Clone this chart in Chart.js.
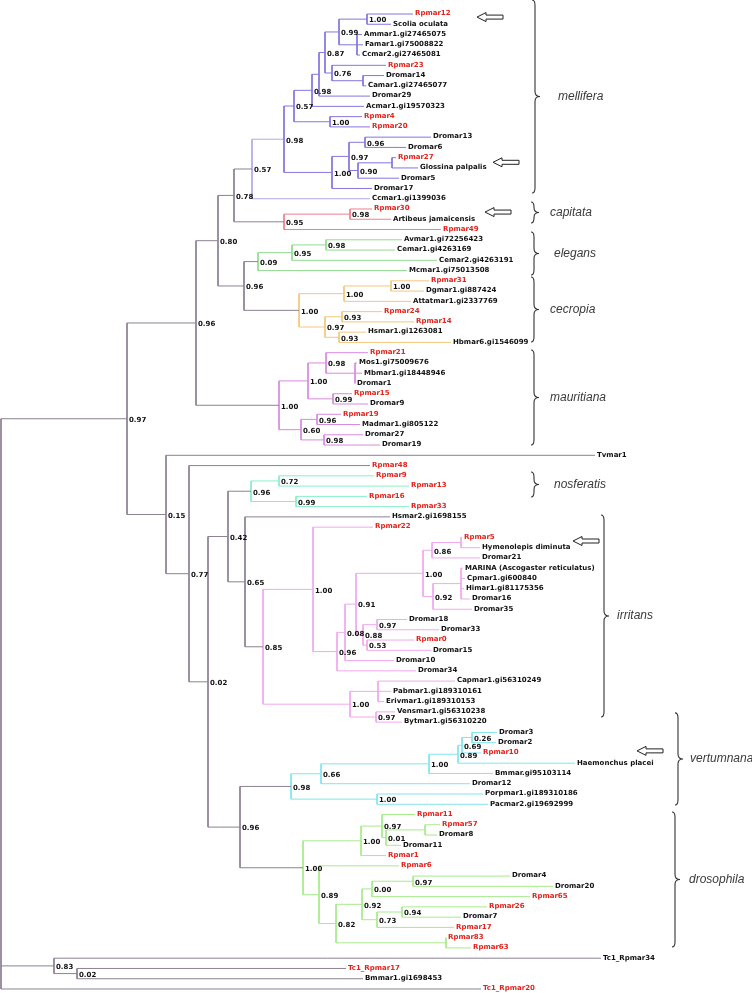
<!DOCTYPE html>
<html>
<head>
<meta charset="utf-8">
<script src="https://cdn.jsdelivr.net/npm/chart.js@4.4.1/dist/chart.umd.min.js"></script>
<style>
  html, body { margin: 0; padding: 0; background: #fff; }
  canvas { display: block; }
</style>
</head>
<body>
<canvas id="tree" width="752" height="993"></canvas>
<script>
// Leaves, top to bottom (y = leaf index)
const leafNames = [
  'Rpmar12', 'Scolia oculata', 'Ammar1.gi27465075', 'Famar1.gi75008822', 'Ccmar2.gi27465081',
  'Rpmar23', 'Dromar14', 'Camar1.gi27465077', 'Dromar29', 'Acmar1.gi19570323',
  'Rpmar4', 'Rpmar20', 'Dromar13', 'Dromar6', 'Rpmar27', 'Glossina palpalis', 'Dromar5', 'Dromar17',
  'Ccmar1.gi1399036', 'Rpmar30', 'Artibeus jamaicensis', 'Rpmar49',
  'Avmar1.gi72256423', 'Cemar1.gi4263169', 'Cemar2.gi4263191', 'Mcmar1.gi75013508',
  'Rpmar31', 'Dgmar1.gi887424', 'Attatmar1.gi2337769', 'Rpmar24', 'Rpmar14', 'Hsmar1.gi1263081', 'Hbmar6.gi1546099',
  'Rpmar21', 'Mos1.gi75009676', 'Mbmar1.gi18448946', 'Dromar1', 'Rpmar15', 'Dromar9',
  'Rpmar19', 'Madmar1.gi805122', 'Dromar27', 'Dromar19',
  'Tvmar1', 'Rpmar48', 'Rpmar9', 'Rpmar13', 'Rpmar16', 'Rpmar33', 'Hsmar2.gi1698155', 'Rpmar22',
  'Rpmar5', 'Hymenolepis diminuta', 'Dromar21', 'MARINA (Ascogaster reticulatus)', 'Cpmar1.gi600840',
  'Himar1.gi81175356', 'Dromar16', 'Dromar35', 'Dromar18', 'Dromar33', 'Rpmar0', 'Dromar15', 'Dromar10', 'Dromar34',
  'Capmar1.gi56310249', 'Pabmar1.gi189310161', 'Erivmar1.gi189310153', 'Vensmar1.gi56310238', 'Bytmar1.gi56310220',
  'Dromar3', 'Dromar2', 'Rpmar10', 'Haemonchus placei', 'Bmmar.gi95103114', 'Dromar12',
  'Porpmar1.gi189310186', 'Pacmar2.gi19692999',
  'Rpmar11', 'Rpmar57', 'Dromar8', 'Dromar11', 'Rpmar1', 'Rpmar6', 'Dromar4', 'Dromar20', 'Rpmar65',
  'Rpmar26', 'Dromar7', 'Rpmar17', 'Rpmar83', 'Rpmar63',
  'Tc1_Rpmar34', 'Tc1_Rpmar17', 'Bmmar1.gi1698453', 'Tc1_Rpmar20'
];

// Tip depth of each leaf (same units as node depth)
const leafTipX = [
  413, 391, 362, 363, 360, 386, 384, 366, 370, 364,
  362, 370, 431, 406, 396, 418, 399, 372, 370, 372,
  391, 441, 402, 395, 437, 407, 429, 424, 411, 382,
  414, 366, 451, 368, 357, 362, 355, 352, 368, 341,
  360, 363, 380, 595, 370, 374, 409, 367, 409, 390,
  373, 462, 480, 480, 463, 465, 464, 470, 472, 407,
  439, 414, 431, 394, 416, 455, 391, 384, 395, 402,
  497, 496, 481, 575, 493, 470, 483, 488, 415, 440,
  437, 401, 386, 399, 510, 553, 530, 487, 461, 454,
  446, 471, 601, 346, 363, 481
];

// Labels printed in red (the Rpmar sequences)
const redLeaves = [
  'Rpmar12', 'Rpmar23', 'Rpmar4', 'Rpmar20', 'Rpmar27', 'Rpmar30', 'Rpmar49', 'Rpmar31', 'Rpmar24',
  'Rpmar14', 'Rpmar21', 'Rpmar15', 'Rpmar19', 'Rpmar48', 'Rpmar9', 'Rpmar13', 'Rpmar16', 'Rpmar33',
  'Rpmar22', 'Rpmar5', 'Rpmar0', 'Rpmar10', 'Rpmar11', 'Rpmar57', 'Rpmar1', 'Rpmar6', 'Rpmar65',
  'Rpmar26', 'Rpmar17', 'Rpmar83', 'Rpmar63', 'Tc1_Rpmar17', 'Tc1_Rpmar20'
];

// Internal nodes per clade: [id, depth, support, children top-to-bottom]
const melliferaNodes = [
  ['rs', 367, '1.00', ['Rpmar12', 'Scolia oculata']],
  ['afc', 357, '', ['Ammar1.gi27465075', 'Famar1.gi75008822', 'Ccmar2.gi27465081']],
  ['m099', 339, '0.99', ['rs', 'afc']],
  ['dc', 363, '', ['Dromar14', 'Camar1.gi27465077']],
  ['m076', 332, '0.76', ['Rpmar23', 'dc']],
  ['m087', 325, '0.87', ['m099', 'm076']],
  ['mx', 319, '', ['m087', 'Dromar29']],
  ['m098n', 312, '0.98', ['mx', 'Acmar1.gi19570323']],
  ['m100r', 330, '1.00', ['Rpmar4', 'Rpmar20']],
  ['m057b', 294, '0.57', ['m098n', 'm100r']],
  ['m096', 365, '0.96', ['Dromar13', 'Dromar6']],
  ['rg', 392, '', ['Rpmar27', 'Glossina palpalis']],
  ['m090', 358, '0.90', ['rg', 'Dromar5']],
  ['m097', 349, '0.97', ['m096', 'm090']],
  ['m100g', 332, '1.00', ['m097', 'Dromar17']],
  ['m098', 284, '0.98', ['m057b', 'm100g']]
];
const melliferaOuterNodes = [
  ['m057a', 252, '0.57', ['m098', 'Ccmar1.gi1399036']]
];
const capitataNodes = [
  ['c098', 350, '0.98', ['Rpmar30', 'Artibeus jamaicensis']],
  ['c095', 284, '0.95', ['c098', 'Rpmar49']]
];
const elegansNodes = [
  ['e098', 326, '0.98', ['Avmar1.gi72256423', 'Cemar1.gi4263169']],
  ['e095', 292, '0.95', ['e098', 'Cemar2.gi4263191']],
  ['e009', 258, '0.09', ['e095', 'Mcmar1.gi75013508']]
];
const cecropiaNodes = [
  ['k100q', 391, '1.00', ['Rpmar31', 'Dgmar1.gi887424']],
  ['k100f', 344, '1.00', ['k100q', 'Attatmar1.gi2337769']],
  ['k093a', 342, '0.93', ['Rpmar24', 'Rpmar14']],
  ['k093b', 339, '0.93', ['Hsmar1.gi1263081', 'Hbmar6.gi1546099']],
  ['k097', 325, '0.97', ['k093a', 'k093b']],
  ['k100', 299, '1.00', ['k100f', 'k097']]
];
const mauritianaNodes = [
  ['md', 355, '', ['Mos1.gi75009676', 'Mbmar1.gi18448946', 'Dromar1']],
  ['u098r', 326, '0.98', ['Rpmar21', 'md']],
  ['u099', 333, '0.99', ['Rpmar15', 'Dromar9']],
  ['u100n', 308, '1.00', ['u098r', 'u099']],
  ['u096', 317, '0.96', ['Rpmar19', 'Madmar1.gi805122']],
  ['u098', 324, '0.98', ['Dromar27', 'Dromar19']],
  ['u060', 301, '0.60', ['u096', 'u098']],
  ['u100', 279, '1.00', ['u100n', 'u060']]
];
const nosferatisNodes = [
  ['n072', 279, '0.72', ['Rpmar9', 'Rpmar13']],
  ['n099', 296, '0.99', ['Rpmar16', 'Rpmar33']],
  ['n096', 251, '0.96', ['n072', 'n099']]
];
const irritansNodes = [
  ['rh', 461, '', ['Rpmar5', 'Hymenolepis diminuta']],
  ['i086', 432, '0.86', ['rh', 'Dromar21']],
  ['mc', 461, '', ['MARINA (Ascogaster reticulatus)', 'Cpmar1.gi600840', 'Himar1.gi81175356', 'Dromar16']],
  ['i092', 433, '0.92', ['mc', 'Dromar35']],
  ['i100c', 423, '1.00', ['i086', 'i092']],
  ['i097', 377, '0.97', ['Dromar18', 'Dromar33']],
  ['i053', 367, '0.53', ['Rpmar0', 'Dromar15']],
  ['i088', 363, '0.88', ['i097', 'i053']],
  ['i091', 356, '0.91', ['i100c', 'i088']],
  ['i008', 345, '0.08', ['i091', 'Dromar10']],
  ['i096', 337, '0.96', ['i008', 'Dromar34']],
  ['i100a', 313, '1.00', ['Rpmar22', 'i096']],
  ['cpe', 378, '', ['Capmar1.gi56310249', 'Pabmar1.gi189310161', 'Erivmar1.gi189310153']],
  ['i097e', 376, '0.97', ['Vensmar1.gi56310238', 'Bytmar1.gi56310220']],
  ['i100b', 350, '1.00', ['cpe', 'i097e']],
  ['i085', 263, '0.85', ['i100a', 'i100b']]
];
const vertumnanaNodes = [
  ['v026', 472, '0.26', ['Dromar3', 'Dromar2']],
  ['v069', 462, '0.69', ['v026', 'Rpmar10']],
  ['v089', 458, '0.89', ['v069', 'Haemonchus placei']],
  ['v100w', 429, '1.00', ['v089', 'Bmmar.gi95103114']],
  ['v066', 321, '0.66', ['v100w', 'Dromar12']],
  ['v100', 377, '1.00', ['Porpmar1.gi189310186', 'Pacmar2.gi19692999']],
  ['v098', 291, '0.98', ['v066', 'v100']]
];
const drosophilaNodes = [
  ['rd', 425, '', ['Rpmar57', 'Dromar8']],
  ['d001', 386, '0.01', ['rd', 'Dromar11']],
  ['d097', 382, '0.97', ['Rpmar11', 'd001']],
  ['d100', 361, '1.00', ['d097', 'Rpmar1']],
  ['d097i', 413, '0.97', ['Dromar4', 'Dromar20']],
  ['d000', 372, '0.00', ['d097i', 'Rpmar65']],
  ['d094', 402, '0.94', ['Rpmar26', 'Dromar7']],
  ['d073', 377, '0.73', ['d094', 'Rpmar17']],
  ['d092', 362, '0.92', ['d000', 'd073']],
  ['rr', 446, '', ['Rpmar83', 'Rpmar63']],
  ['d082', 336, '0.82', ['d092', 'rr']],
  ['d089', 319, '0.89', ['Rpmar6', 'd082']],
  ['dro', 303, '1.00', ['d100', 'd089']]
];
const backboneNodes = [
  ['b078', 234, '0.78', ['m057a', 'c095']],
  ['b096e', 244, '0.96', ['e009', 'k100']],
  ['b080', 218, '0.80', ['b078', 'b096e']],
  ['b096a', 196, '0.96', ['b080', 'u100']],
  ['b065', 245, '0.65', ['Hsmar2.gi1698155', 'i085']],
  ['b042', 228, '0.42', ['n096', 'b065']],
  ['b096b', 240, '0.96', ['v098', 'dro']],
  ['b002', 208, '0.02', ['b042', 'b096b']],
  ['b077', 189, '0.77', ['Rpmar48', 'b002']],
  ['b015', 166, '0.15', ['Tvmar1', 'b077']],
  ['b097', 127, '0.97', ['b096a', 'b015']],
  ['t002', 77, '0.02', ['Tc1_Rpmar17', 'Bmmar1.gi1698453']],
  ['t083', 54, '0.83', ['Tc1_Rpmar34', 't002']],
  ['root', 1, '', ['b097', 't083', 'Tc1_Rpmar20']]
];

// Clade brackets: name and leaf-index span
const cladeNames = ['mellifera', 'capitata', 'elegans', 'cecropia', 'mauritiana', 'nosferatis', 'irritans', 'vertumnana', 'drosophila'];
const cladeSpans = [[-1.36, 17.44], [18.32, 20.36], [21.24, 25.43], [25.63, 31.96], [32.74, 41.99],
                    [44.63, 47.06], [48.82, 68.5], [68.1, 77.07], [77.76, 90.9]];

// Hollow arrows pointing at leaves (leaf-index position)
const arrowRows = [0.3, 14.45, 19.3, 51.35, 71.8];

// ---- styling / layout (not data) ----
const groupStyles = [
  [backboneNodes, '#8d8194'],
  [melliferaNodes, '#8577e0'],
  [melliferaOuterNodes, '#b4aae6'],
  [capitataNodes, '#f07f8d'],
  [elegansNodes, '#92dc92'],
  [cecropiaNodes, '#f6c77c'],
  [mauritianaNodes, '#d98ae2'],
  [nosferatisNodes, '#86efc8'],
  [irritansNodes, '#f1a8ef'],
  [vertumnanaNodes, '#82e5ee'],
  [drosophilaNodes, '#a8ea8c']
];
const braceX = [535, 534, 534, 534, 534, 534, 604, 678, 675];
const cladeLabelX = [558, 550, 554, 550, 550, 554, 617, 690, 689];
const arrowX = [477, 493, 485, 573, 637];

// ---- layout: depth from data, y from leaf order ----
const nodes = {};
leafNames.forEach((n, i) => { nodes[n] = { x: leafTipX[i], y: i, leaf: true }; });
groupStyles.forEach(([list, color]) => {
  list.forEach(([id, x, support, kids]) => { nodes[id] = { x, support, kids, color, leaf: false }; });
});
function nodeY(id) {
  const n = nodes[id];
  if (n.y === undefined) {
    const a = nodeY(n.kids[0]), b = nodeY(n.kids[n.kids.length - 1]);
    n.y = (a + b) / 2;
  }
  return n.y;
}
Object.keys(nodes).forEach(nodeY);

const GAP = { x: NaN, y: NaN };
const datasets = groupStyles.map(([list, color]) => {
  const data = [];
  list.forEach(([id]) => {
    const n = nodes[id];
    const ys = n.kids.map(k => nodes[k].y);
    data.push({ x: n.x, y: ys[0] }, { x: n.x, y: ys[ys.length - 1] }, GAP);
    n.kids.forEach(k => data.push({ x: n.x, y: nodes[k].y }, { x: nodes[k].x, y: nodes[k].y }, GAP));
  });
  return {
    data, borderColor: color, borderWidth: 1, showLine: true, spanGaps: false,
    pointRadius: 0, pointHoverRadius: 0, fill: false
  };
});

function drawBrace(ctx, x, y0, y1) {
  const ym = (y0 + y1) / 2, w = 3, tip = 5, r = 5;
  ctx.beginPath();
  ctx.moveTo(x - w, y0);
  ctx.quadraticCurveTo(x, y0, x, y0 + r);
  ctx.lineTo(x, ym - r);
  ctx.quadraticCurveTo(x, ym, x + tip, ym);
  ctx.quadraticCurveTo(x, ym, x, ym + r);
  ctx.lineTo(x, y1 - r);
  ctx.quadraticCurveTo(x, y1, x - w, y1);
  ctx.stroke();
}

function drawArrow(ctx, xl, yc) {
  ctx.beginPath();
  ctx.moveTo(xl, yc);
  ctx.lineTo(xl + 9, yc - 4.5);
  ctx.lineTo(xl + 9, yc - 2);
  ctx.lineTo(xl + 26, yc - 2);
  ctx.lineTo(xl + 26, yc + 2);
  ctx.lineTo(xl + 9, yc + 2);
  ctx.lineTo(xl + 9, yc + 4.5);
  ctx.closePath();
  ctx.fillStyle = '#fff';
  ctx.fill();
  ctx.stroke();
}

const treeText = {
  id: 'treeText',
  afterDatasetsDraw(chart) {
    const { ctx, scales: { x, y } } = chart;
    ctx.save();
    ctx.textBaseline = 'middle';
    ctx.textAlign = 'left';
    ctx.font = 'bold 7px "DejaVu Sans"';
    leafNames.forEach((name, i) => {
      ctx.fillStyle = redLeaves.includes(name) ? '#e5231d' : '#111';
      ctx.fillText(name, x.getPixelForValue(leafTipX[i]) + 2, y.getPixelForValue(i) - 0.5);
    });
    ctx.fillStyle = '#111';
    Object.values(nodes).forEach(n => {
      if (!n.leaf && n.support) ctx.fillText(n.support, x.getPixelForValue(n.x) + 2, y.getPixelForValue(n.y) + 1.5);
    });

    ctx.strokeStyle = '#333';
    ctx.lineWidth = 1.1;
    cladeNames.forEach((name, i) => {
      const y0 = y.getPixelForValue(cladeSpans[i][0]);
      const y1 = y.getPixelForValue(cladeSpans[i][1]);
      drawBrace(ctx, braceX[i], y0, y1);
      ctx.fillStyle = '#3a3a3a';
      ctx.font = 'italic 12px "Liberation Sans"';
      ctx.fillText(name, cladeLabelX[i], (y0 + y1) / 2);
    });

    ctx.strokeStyle = '#222';
    ctx.lineWidth = 1;
    arrowRows.forEach((r, i) => drawArrow(ctx, arrowX[i], y.getPixelForValue(r)));
    ctx.restore();
  }
};

// leaf i sits at pixel 14 + i * 10.263
const ROW = 10.263, TOP = 14;
const yMin = -TOP / ROW, yMax = yMin + 993 / ROW;

new Chart(document.getElementById('tree'), {
  type: 'scatter',
  data: { datasets },
  options: {
    responsive: false,
    animation: false,
    layout: { padding: 0 },
    plugins: { legend: { display: false }, tooltip: { enabled: false } },
    events: [],
    scales: {
      x: { type: 'linear', display: false, min: 0, max: 752 },
      y: { type: 'linear', display: false, reverse: true, min: yMin, max: yMax }
    }
  },
  plugins: [treeText]
});
</script>
</body>
</html>
